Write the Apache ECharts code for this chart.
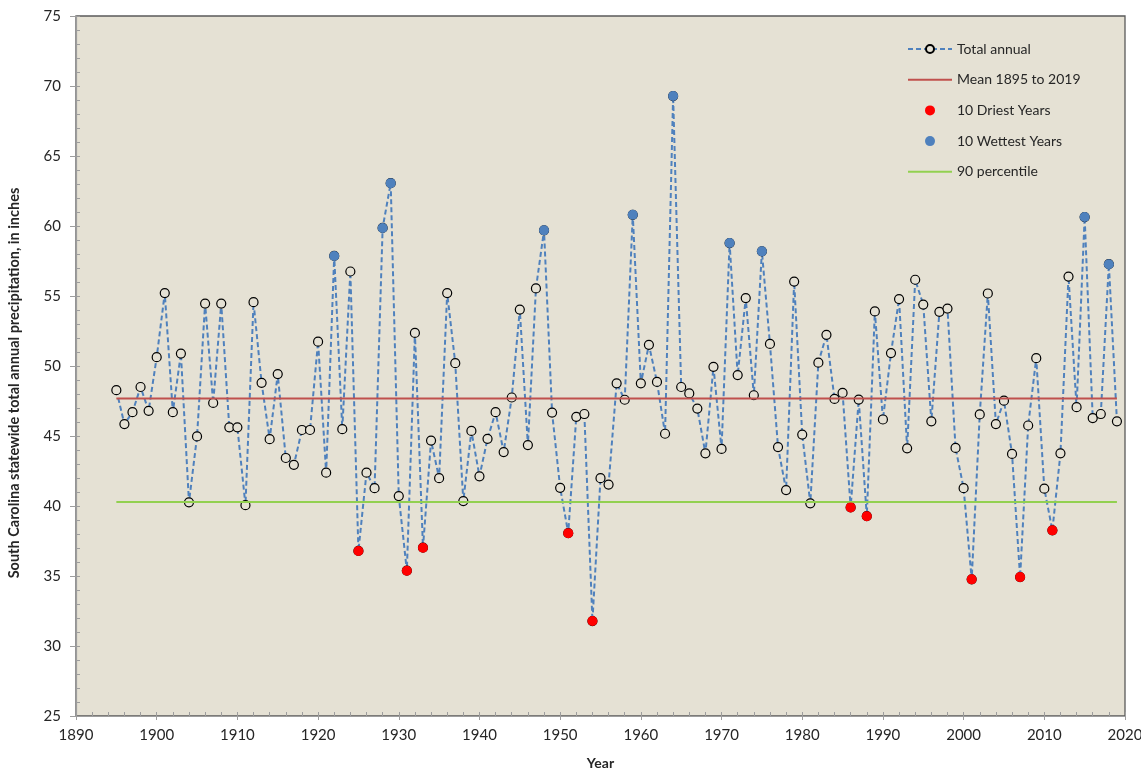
<!DOCTYPE html>
<html>
<head>
<meta charset="utf-8">
<title>South Carolina statewide total annual precipitation</title>
<script src="https://cdn.jsdelivr.net/npm/echarts@6/dist/echarts.min.js"></script>
<style>
  html, body { margin: 0; padding: 0; background: #ffffff; }
  #chart { width: 1141px; height: 770px; }
</style>
</head>
<body>
<div id="chart"></div>
<script>
// Statewide total annual precipitation (inches), one value per year from 1895.
const FIRST_YEAR = 1895;
const totals = [
  48.27, 45.85, 46.70, 48.50, 46.80, 50.63, 55.21, 46.70, 50.89, 40.26, // 1895-1904
  44.97, 54.46, 47.36, 54.46, 45.62, 45.62, 40.06, 54.56, 48.80, 44.77, // 1905-1914
  49.42, 43.43, 42.94, 45.43, 45.43, 51.74, 42.38, 57.86, 45.49, 56.75, // 1915-1924
  36.79, 42.38, 41.27, 59.86, 63.06, 40.71, 35.38, 52.36, 37.02, 44.67, // 1925-1934
  41.99, 55.21, 50.20, 40.35, 45.36, 42.12, 44.80, 46.70, 43.85, 47.75, // 1935-1944
  54.03, 44.35, 55.54, 59.69, 46.67, 41.30, 38.06, 46.37, 46.57, 31.78, // 1945-1954
  41.99, 41.53, 48.76, 47.59, 60.80, 48.76, 51.51, 48.86, 45.16, 69.28, // 1955-1964
  48.50, 48.04, 46.96, 43.76, 49.94, 44.08, 58.78, 49.35, 54.85, 47.91, // 1965-1974
  58.19, 51.58, 44.21, 41.14, 56.03, 45.10, 40.19, 50.24, 52.23, 47.65, // 1975-1984
  48.08, 39.90, 47.60, 39.27, 53.90, 46.18, 50.92, 54.78, 44.12, 56.16, // 1985-1994
  54.39, 46.05, 53.87, 54.10, 44.15, 41.27, 34.76, 46.54, 55.18, 45.85, // 1995-2004
  47.52, 43.72, 34.92, 45.75, 50.56, 41.24, 38.26, 43.76, 56.39, 47.06, // 2005-2014
  60.64, 46.28, 46.57, 57.27, 46.05                                       // 2015-2019
];
const years = totals.map((_, i) => FIRST_YEAR + i);

// Highlighted extremes.
const driestYears  = [1925, 1931, 1933, 1951, 1954, 1986, 1988, 2001, 2007, 2011];
const wettestYears = [1922, 1928, 1929, 1948, 1959, 1964, 1971, 1975, 2015, 2018];

// Reference levels, drawn across the record period.
const meanValue = 47.68;
const percentile90 = 40.29;
const periodYears = [1895, 2019];

// Axis ranges and steps.
const xRange = { min: 1890, max: 2020, major: 10, minor: 2 };
const yRange = { min: 25, max: 75, major: 5, minor: 1 };

const seriesNames = ['Total annual', 'Mean 1895 to 2019', '10 Driest Years', '10 Wettest Years', '90 percentile'];

const totalPoints = years.map((y, i) => [y, totals[i]]);
const pick = list => list.map(y => [y, totals[years.indexOf(y)]]);
const levelLine = v => periodYears.map(y => [y, v]);

const FONT = 'Lato, "Noto Sans", sans-serif';
const PLOT_BG = '#E5E1D4';
const AXIS_GREY = '#9d9d9d';
const TEXT = '#262626';
const NO_MARKER = { color: 'rgba(0,0,0,0)', borderWidth: 0, opacity: 0 };

const chart = echarts.init(document.getElementById('chart'), null, { renderer: 'canvas' });

chart.setOption({
  backgroundColor: '#ffffff',
  animation: false,
  textStyle: { fontFamily: FONT },
  grid: {
    left: 76, right: 16, top: 16, bottom: 54,
    containLabel: false,
    outerBoundsMode: 'none',
    show: true,
    backgroundColor: PLOT_BG,
    borderColor: '#5a5a5a',
    borderWidth: 1.3
  },
  legend: {
    orient: 'vertical',
    left: 907,
    top: 41,
    padding: 0,
    itemWidth: 44,
    itemHeight: 10,
    itemGap: 14.7,
    textStyle: { fontFamily: FONT, fontSize: 14, color: TEXT, lineHeight: 16 },
    data: [
      { name: seriesNames[0] },
      { name: seriesNames[1], itemStyle: NO_MARKER },
      { name: seriesNames[2] },
      { name: seriesNames[3] },
      { name: seriesNames[4], itemStyle: NO_MARKER }
    ]
  },
  xAxis: [
    {
      type: 'value',
      min: xRange.min, max: xRange.max, interval: xRange.major,
      name: 'Year',
      nameLocation: 'middle',
      nameGap: 40,
      nameTextStyle: { fontFamily: FONT, fontSize: 14, fontWeight: 'bold', color: TEXT },
      axisLine: { show: true, lineStyle: { color: AXIS_GREY, width: 1.2 } },
      axisTick: { show: true, inside: false, length: 4, lineStyle: { color: AXIS_GREY } },
      axisLabel: { fontFamily: FONT, fontSize: 15, color: TEXT, margin: 12, formatter: v => String(v) },
      splitLine: { show: false }
    },
    {
      type: 'value',
      position: 'bottom',
      min: xRange.min, max: xRange.max, interval: xRange.minor,
      axisLine: { show: false },
      axisTick: { show: true, inside: true, length: 4, lineStyle: { color: AXIS_GREY } },
      axisLabel: { show: false },
      splitLine: { show: false }
    }
  ],
  yAxis: [
    {
      type: 'value',
      min: yRange.min, max: yRange.max, interval: yRange.major,
      name: 'South Carolina statewide total annual precipitation, in inches',
      nameLocation: 'middle',
      nameGap: 54,
      nameTextStyle: { fontFamily: FONT, fontSize: 14.5, fontWeight: 'bold', color: TEXT, padding: [0, 34, 0, 0] },
      axisLine: { show: true, lineStyle: { color: AXIS_GREY, width: 1.2 } },
      axisTick: { show: true, inside: false, length: 6, lineStyle: { color: AXIS_GREY } },
      axisLabel: { fontFamily: FONT, fontSize: 15, color: TEXT, margin: 15 },
      splitLine: { show: false }
    },
    {
      type: 'value',
      position: 'left',
      min: yRange.min, max: yRange.max, interval: yRange.minor,
      axisLine: { show: false },
      axisTick: { show: true, inside: true, length: 4, lineStyle: { color: AXIS_GREY } },
      axisLabel: { show: false },
      splitLine: { show: false }
    }
  ],
  series: [
    {
      name: seriesNames[0],
      type: 'line',
      data: totalPoints,
      symbol: 'circle',
      symbolSize: 9,
      showAllSymbol: true,
      lineStyle: { color: '#4F81BD', width: 2, type: [5, 3] },
      itemStyle: { color: PLOT_BG, borderColor: '#000000', borderWidth: 1.2 },
      z: 2
    },
    {
      name: seriesNames[1],
      type: 'line',
      data: levelLine(meanValue),
      symbol: 'none',
      lineStyle: { color: '#C0504D', width: 2 },
      itemStyle: { color: '#C0504D' },
      z: 3
    },
    {
      name: seriesNames[2],
      type: 'scatter',
      data: pick(driestYears),
      symbol: 'circle',
      symbolSize: 10,
      itemStyle: { color: '#FF0000', opacity: 1 },
      z: 4
    },
    {
      name: seriesNames[3],
      type: 'scatter',
      data: pick(wettestYears),
      symbol: 'circle',
      symbolSize: 10,
      itemStyle: { color: '#4F81BD', opacity: 1 },
      z: 4
    },
    {
      name: seriesNames[4],
      type: 'line',
      data: levelLine(percentile90),
      symbol: 'none',
      lineStyle: { color: '#92D050', width: 2 },
      itemStyle: { color: '#92D050' },
      z: 3
    }
  ]
});
</script>
</body>
</html>
